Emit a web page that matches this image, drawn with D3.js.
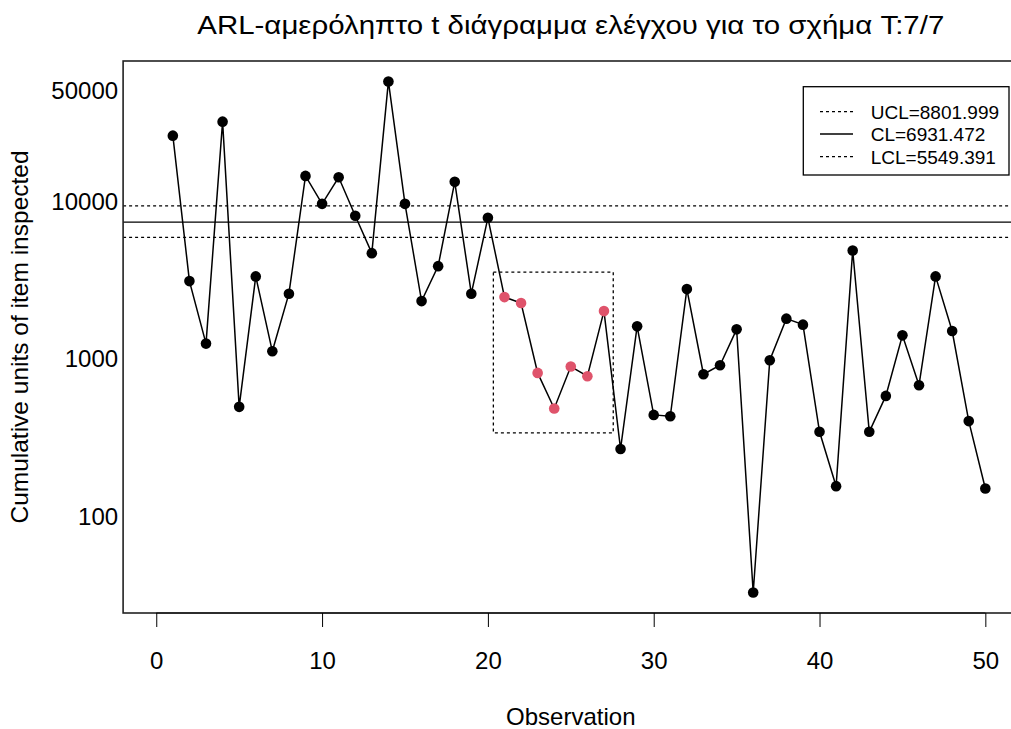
<!DOCTYPE html>
<html>
<head>
<meta charset="utf-8">
<script src="https://cdn.jsdelivr.net/npm/d3@7"></script>
<style>
  html, body { margin: 0; padding: 0; background: #fff; }
  svg text { font-family: "Liberation Sans", Arial, Helvetica, sans-serif; fill: #000; }
</style>
</head>
<body>
<svg id="chart" width="1011" height="729"></svg>
<script>
// ---- data ----
const observations = d3.range(1, 51);
const inspected = [24520, 2934, 1178, 30080, 468, 3142, 1053, 2441, 13630, 9064,
                   13350, 7610, 4412, 54110, 9064, 2191, 3650, 12490, 2441, 7390,
                   2323, 2129, 768, 457, 843, 732, 1894, 253, 1516, 416,
                   408, 2610, 753, 859, 1451, 31.1, 924, 1696, 1554, 325,
                   147, 4588, 325, 549, 1329, 642, 3142, 1416, 380, 142];
const signalFrom = 21, signalTo = 27;          // points flagged in red
const controlLimits = [
  { name: "UCL", value: 8801.999, dash: true },
  { name: "CL",  value: 6931.472, dash: false },
  { name: "LCL", value: 5549.391, dash: true }
];
const signalBox = { x0: 20.33, x1: 27.56, y0: 320, y1: 3345 };
const xTicks = [0, 10, 20, 30, 40, 50];
const yTicks = [100, 1000, 10000, 50000];
const titleText = "ARL-αμερόληπτο t διάγραμμα ελέγχου για το σχήμα T:7/7";
const xLabel = "Observation";
const yLabel = "Cumulative units of item inspected";

// ---- layout ----
const pL = 123.1, pR = 1018.5, pT = 61, pB = 613;

const svg = d3.select("#chart");

const x = d3.scaleLinear().domain([-2, 52]).range([pL, pR]);
const lo = Math.log10(d3.min(inspected)), hi = Math.log10(d3.max(inspected));
const pad = 0.04 * (hi - lo);
const y = d3.scaleLog().domain([Math.pow(10, lo - pad), Math.pow(10, hi + pad)]).range([pB, pT]);

svg.append("defs").append("clipPath").attr("id", "plotclip")
  .append("rect").attr("x", pL).attr("y", pT).attr("width", pR - pL).attr("height", pB - pT);

const plot = svg.append("g").attr("clip-path", "url(#plotclip)");

// control lines
plot.selectAll("line.cl").data(controlLimits).enter().append("line")
  .attr("x1", pL).attr("x2", pR)
  .attr("y1", d => y(d.value)).attr("y2", d => y(d.value))
  .attr("stroke", "#000").attr("stroke-width", 1.3)
  .attr("stroke-dasharray", d => d.dash ? "3,3" : null);

// signal box
plot.append("rect")
  .attr("x", x(signalBox.x0)).attr("y", y(signalBox.y1))
  .attr("width", x(signalBox.x1) - x(signalBox.x0))
  .attr("height", y(signalBox.y0) - y(signalBox.y1))
  .attr("fill", "none").attr("stroke", "#000").attr("stroke-width", 1.3)
  .attr("stroke-dasharray", "3,3");

// series line
const pts = observations.map((o, i) => ({ o, v: inspected[i] }));
plot.append("path").datum(pts)
  .attr("d", d3.line().x(d => x(d.o)).y(d => y(d.v)))
  .attr("fill", "none").attr("stroke", "#000").attr("stroke-width", 1.5);

plot.selectAll("circle.pt").data(pts).enter().append("circle")
  .attr("cx", d => x(d.o)).attr("cy", d => y(d.v)).attr("r", 5.3)
  .attr("fill", d => (d.o >= signalFrom && d.o <= signalTo) ? "#DF536B" : "#000");

// frame
svg.append("rect").attr("x", pL).attr("y", pT)
  .attr("width", pR - pL).attr("height", pB - pT)
  .attr("fill", "none").attr("stroke", "#222").attr("stroke-width", 1.6);

// x axis
const xAxis = d3.axisBottom(x).tickValues(xTicks).tickSize(14).tickPadding(10).tickFormat(d3.format("d"));
const gx = svg.append("g").attr("transform", `translate(0,${pB})`).call(xAxis);
gx.select(".domain").attr("d", `M${x(0)},0H${x(50)}`).attr("stroke", "#222").attr("stroke-width", 1.6);
gx.selectAll(".tick line").attr("stroke", "#000").attr("stroke-width", 1);
gx.selectAll(".tick text").attr("font-size", 24).attr("y", 56).attr("dy", null)
  .attr("font-family", "Liberation Sans, Arial, sans-serif").attr("fill", "#000");

// y axis (labels only)
const yAxis = d3.axisLeft(y).tickValues(yTicks).tickSize(0).tickPadding(5).tickFormat(d3.format("d"));
const gy = svg.append("g").attr("transform", `translate(${pL},0)`).call(yAxis);
gy.select(".domain").remove();
gy.selectAll(".tick text").attr("font-size", 24).attr("x", -5).attr("dy", "0.5em")
  .attr("font-family", "Liberation Sans, Arial, sans-serif").attr("fill", "#000");

// titles
svg.append("text").attr("x", (pL + pR) / 2).attr("y", 34)
  .attr("text-anchor", "middle").attr("font-size", 26)
  .attr("textLength", 747).attr("lengthAdjust", "spacingAndGlyphs")
  .text(titleText);
svg.append("text").attr("x", (pL + pR) / 2).attr("y", 725)
  .attr("text-anchor", "middle").attr("font-size", 24).text(xLabel);
svg.append("text").attr("transform", `translate(28,${(pT + pB) / 2}) rotate(-90)`)
  .attr("text-anchor", "middle").attr("font-size", 24.5).text(yLabel);

// legend
const lg = svg.append("g");
lg.append("rect").attr("x", 803.3).attr("y", 86.7).attr("width", 205.7).attr("height", 88.3)
  .attr("fill", "#fff").attr("stroke", "#000").attr("stroke-width", 1.3);
const rowY = [111.7, 134, 156.7];
controlLimits.forEach((d, i) => {
  lg.append("line").attr("x1", 820).attr("x2", 853).attr("y1", rowY[i]).attr("y2", rowY[i])
    .attr("stroke", "#000").attr("stroke-width", 1.3)
    .attr("stroke-dasharray", d.dash ? "3,3" : null);
  lg.append("text").attr("x", 870.7).attr("y", rowY[i] + 6.8).attr("font-size", 19)
    .text(`${d.name}=${d.value.toFixed(3)}`);
});
</script>
</body>
</html>
